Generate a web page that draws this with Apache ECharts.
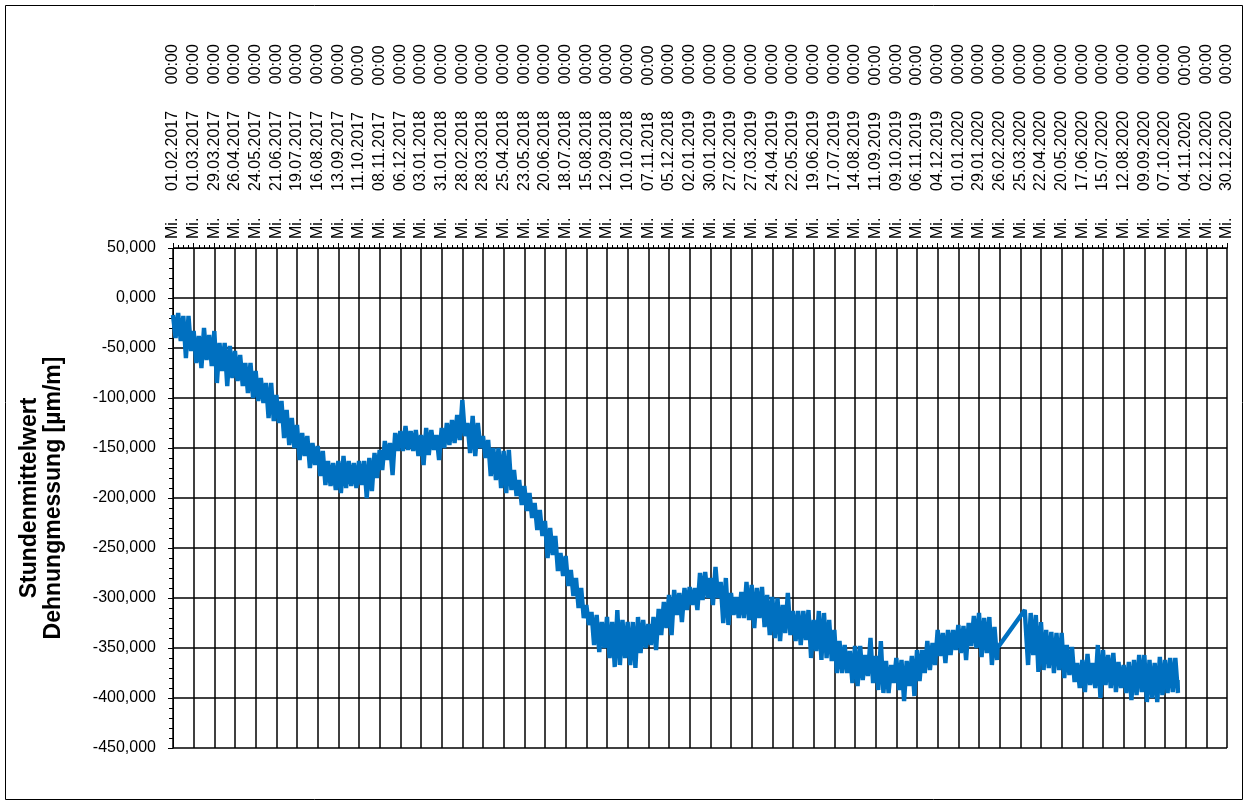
<!DOCTYPE html>
<html><head><meta charset="utf-8">
<script src="https://cdn.jsdelivr.net/npm/echarts@6/dist/echarts.min.js"></script>
<style>html,body{margin:0;padding:0;background:#fff}#c{width:1248px;height:805px}</style>
</head><body><div id="c"></div>
<script>
// Tick labels of the date axis (every 28 days from Wed 01.02.2017)
const xTickLabels = [
"Mi. 01.02.2017 00:00","Mi. 01.03.2017 00:00","Mi. 29.03.2017 00:00","Mi. 26.04.2017 00:00","Mi. 24.05.2017 00:00",
"Mi. 21.06.2017 00:00","Mi. 19.07.2017 00:00","Mi. 16.08.2017 00:00","Mi. 13.09.2017 00:00","Mi. 11.10.2017 00:00",
"Mi. 08.11.2017 00:00","Mi. 06.12.2017 00:00","Mi. 03.01.2018 00:00","Mi. 31.01.2018 00:00","Mi. 28.02.2018 00:00",
"Mi. 28.03.2018 00:00","Mi. 25.04.2018 00:00","Mi. 23.05.2018 00:00","Mi. 20.06.2018 00:00","Mi. 18.07.2018 00:00",
"Mi. 15.08.2018 00:00","Mi. 12.09.2018 00:00","Mi. 10.10.2018 00:00","Mi. 07.11.2018 00:00","Mi. 05.12.2018 00:00",
"Mi. 02.01.2019 00:00","Mi. 30.01.2019 00:00","Mi. 27.02.2019 00:00","Mi. 27.03.2019 00:00","Mi. 24.04.2019 00:00",
"Mi. 22.05.2019 00:00","Mi. 19.06.2019 00:00","Mi. 17.07.2019 00:00","Mi. 14.08.2019 00:00","Mi. 11.09.2019 00:00",
"Mi. 09.10.2019 00:00","Mi. 06.11.2019 00:00","Mi. 04.12.2019 00:00","Mi. 01.01.2020 00:00","Mi. 29.01.2020 00:00",
"Mi. 26.02.2020 00:00","Mi. 25.03.2020 00:00","Mi. 22.04.2020 00:00","Mi. 20.05.2020 00:00","Mi. 17.06.2020 00:00",
"Mi. 15.07.2020 00:00","Mi. 12.08.2020 00:00","Mi. 09.09.2020 00:00","Mi. 07.10.2020 00:00","Mi. 04.11.2020 00:00",
"Mi. 02.12.2020 00:00","Mi. 30.12.2020 00:00"
];
const yTickValues = [50, 0, -50, -100, -150, -200, -250, -300, -350, -400, -450];

// x values are days since 01.02.2017; weekly highest / lowest hourly means
const seg1StartDay = 0;
const seg1High = [
-17,-15,-18,-18,-33,-38,-30,-37,-33,-45,
-45,-48,-53,-57,-65,-65,-73,-80,-85,-85,
-97,-103,-112,-120,-127,-135,-138,-145,-148,-153,
-163,-165,-163,-158,-163,-165,-163,-163,-160,-155,
-152,-143,-145,-135,-133,-128,-133,-132,-137,-130,
-132,-137,-130,-125,-122,-117,-102,-125,-118,-125,
-138,-142,-150,-150,-153,-152,-172,-182,-188,-195,
-205,-212,-223,-230,-238,-255,-258,-272,-280,-290,
-307,-314,-317,-324,-319,-324,-312,-322,-324,-324,
-319,-322,-326,-319,-311,-304,-297,-292,-295,-290,
-289,-290,-275,-274,-280,-269,-284,-280,-295,-299,
-294,-284,-287,-290,-289,-297,-299,-300,-307,-295,
-313,-313,-313,-312,-322,-313,-315,-322,-332,-343,
-347,-353,-348,-348,-357,-340,-358,-343,-363,-367,
-360,-362,-363,-358,-352,-352,-343,-345,-332,-335,
-332,-332,-327,-328,-325,-318,-315,-320,-319,-329
];
const seg1Low = [
-40,-43,-60,-53,-65,-70,-62,-68,-85,-73,
-88,-80,-83,-88,-95,-100,-103,-105,-120,-123,
-125,-140,-147,-150,-162,-158,-170,-167,-178,-187,
-188,-192,-195,-190,-188,-190,-187,-200,-193,-180,
-172,-162,-177,-153,-153,-152,-153,-158,-167,-157,
-152,-162,-150,-147,-145,-142,-138,-155,-158,-150,
-160,-178,-182,-190,-195,-192,-198,-207,-213,-220,
-232,-238,-260,-257,-273,-278,-288,-298,-310,-320,
-327,-347,-354,-350,-360,-369,-367,-360,-367,-370,
-355,-350,-347,-352,-337,-330,-337,-317,-324,-312,
-307,-312,-302,-300,-307,-300,-325,-327,-317,-320,
-320,-322,-330,-320,-329,-337,-340,-343,-335,-337,
-343,-347,-342,-360,-353,-362,-360,-363,-375,-375,
-375,-385,-388,-382,-378,-385,-392,-395,-395,-385,
-392,-403,-388,-398,-383,-375,-372,-367,-358,-365,
-357,-352,-355,-362,-348,-350,-359,-355,-367,-362
];
const seg1End = [1117, -350];   // last value before the data gap
const seg2Start = [1154, -312]; // first value after the data gap
const seg2StartDay = 1155;
const seg2High = [
-312,-315,-317,-324,-332,-334,-335,-335,-347,-349,
-365,-362,-356,-365,-347,-352,-357,-355,-364,-367,
-364,-362,-357,-357,-362,-365,-359,-362,-360,-360
];
const seg2Low = [
-367,-357,-374,-372,-370,-375,-372,-380,-377,-384,
-390,-394,-387,-390,-400,-387,-390,-394,-390,-395,
-402,-397,-394,-404,-400,-404,-397,-395,-394,-395
];
const seg2End = [1361, -382];

function weekly(startDay, hi, lo) {
  const pts = [];
  for (let k = 0; k < hi.length; k++) {
    pts.push([startDay + 7 * k, hi[k]]);
    pts.push([startDay + 7 * k + 3.5, lo[k]]);
  }
  return pts;
}
const lineData = [].concat(
  weekly(seg1StartDay, seg1High, seg1Low), [seg1End, seg2Start],
  weekly(seg2StartDay, seg2High, seg2Low), [seg2End]
);

const FONT = 'Liberation Sans, Arial, sans-serif';
const LABEL_GAP = '      ';
const chart = echarts.init(document.getElementById('c'), null, {renderer: 'canvas'});
chart.setOption({
  animation: false,
  backgroundColor: '#fff',
  grid: {left: 173, right: 21, top: 248, bottom: 57, show: false},
  xAxis: {
    type: 'value', position: 'top', min: 0, max: 1428, interval: 28,
    axisLine: {show: true, onZero: false, lineStyle: {color: '#000', width: 1}},
    axisTick: {show: true, length: 5, lineStyle: {color: '#000'}},
    minorTick: {show: true, splitNumber: 4, length: 3, lineStyle: {color: '#000'}},
    splitLine: {show: true, lineStyle: {color: '#000', width: 1.5}},
    axisLabel: {
      rotate: -90, margin: 9, fontSize: 16, color: '#000', fontFamily: FONT,
      showMinLabel: true, showMaxLabel: true,
      formatter: v => (xTickLabels[Math.round(v / 28)] || '').split(' ').join(LABEL_GAP)
    }
  },
  yAxis: {
    type: 'value', min: yTickValues[yTickValues.length - 1], max: yTickValues[0], interval: 50,
    name: 'Stundenmittelwert\nDehnungmessung [µm/m]',
    nameLocation: 'middle', nameGap: 107,
    nameTextStyle: {fontSize: 23, fontWeight: 'bold', lineHeight: 24, color: '#000', fontFamily: FONT},
    axisLine: {show: true, onZero: false, lineStyle: {color: '#000', width: 1}},
    axisTick: {show: true, length: 5, lineStyle: {color: '#000'}},
    minorTick: {show: true, splitNumber: 5, length: 4, lineStyle: {color: '#000'}},
    splitLine: {show: true, lineStyle: {color: '#000', width: 1.5}},
    axisLabel: {
      fontSize: 16, margin: 17, color: '#000', fontFamily: FONT,
      formatter: v => v.toFixed(3).replace('.', ',')
    }
  },
  series: [{
    type: 'line', data: lineData, symbol: 'none', showSymbol: false, silent: true,
    lineStyle: {color: '#0070C0', width: 4.4}
  }],
  graphic: [{
    type: 'rect', silent: true,
    shape: {x: 5.5, y: 5.5, width: 1237, height: 794},
    style: {fill: 'none', stroke: '#000', lineWidth: 1}
  }]
});
</script></body></html>
